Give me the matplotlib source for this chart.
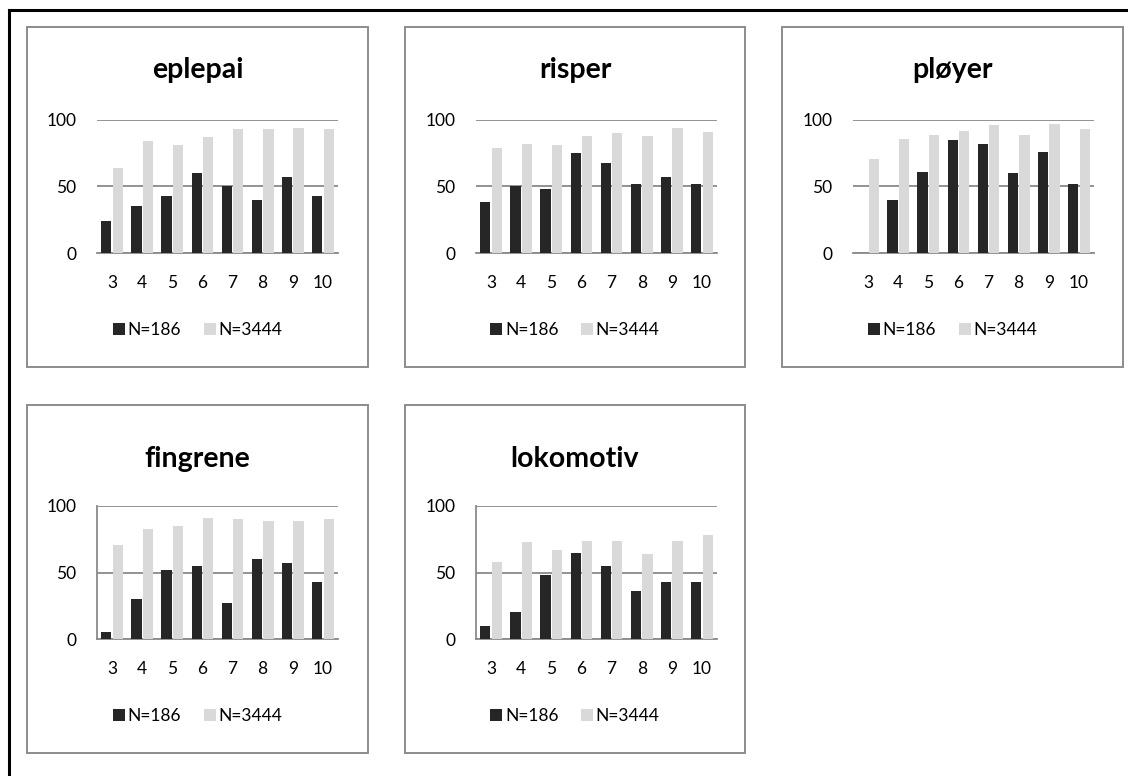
import matplotlib
matplotlib.use('Agg')
import matplotlib.pyplot as plt
from matplotlib.patches import Rectangle
from matplotlib.lines import Line2D
import numpy as np

plt.rcParams['font.family'] = ['Lato', 'DejaVu Sans']

# ages on the x axis
ages = ['3', '4', '5', '6', '7', '8', '9', '10']
series_labels = ['N=186', 'N=3444']

words = ['eplepai', 'risper', 'pløyer', 'fingrene', 'lokomotiv']
small_group = {
    'eplepai':   [24, 35, 43, 60, 50, 40, 57, 43],
    'risper':    [38, 50, 48, 75, 68, 52, 57, 52],
    'pløyer':    [0, 40, 61, 85, 82, 60, 76, 52],
    'fingrene':  [5, 30, 52, 55, 27, 60, 57, 43],
    'lokomotiv': [10, 20, 48, 65, 55, 36, 43, 43],
}
large_group = {
    'eplepai':   [64, 84, 81, 87, 93, 93, 94, 93],
    'risper':    [79, 82, 81, 88, 90, 88, 94, 91],
    'pløyer':    [71, 86, 89, 92, 96, 89, 97, 93],
    'fingrene':  [71, 83, 85, 91, 90, 89, 89, 90],
    'lokomotiv': [58, 73, 67, 74, 74, 64, 74, 78],
}

W, H = 1128, 776
DARK = '#262626'
LIGHT = '#d9d9d9'
GRID = '#8a8a8a'

fig = plt.figure(figsize=(W / 100, H / 100), dpi=100)

# black frame on top and left
fig.add_artist(Line2D([9 / W, 1], [1 - 10 / H, 1 - 10 / H], color='black', lw=2.2))
fig.add_artist(Line2D([9 / W, 9 / W], [0, 1 - 10 / H], color='black', lw=2.2))

# panel boxes in pixels: x0, x1, y0, y1, plot left edge, baseline, title y, legend y
panels = [
    (27, 368, 27, 367, 97, 253, 70, 330),
    (405, 745, 27, 367, 476, 253, 70, 330),
    (782, 1123, 27, 367, 853, 253, 70, 330),
    (27, 368, 405, 753, 97, 639, 459, 716),
    (405, 745, 405, 753, 476, 639, 459, 716),
]

x = np.arange(len(ages))
bw = 0.34
for i, word in enumerate(words):
    px0, px1, py0, py1, ax_left, ax_base, title_y, leg_y = panels[i]
    fig.add_artist(Rectangle((px0 / W, 1 - py1 / H), (px1 - px0) / W, (py1 - py0) / H,
                             transform=fig.transFigure, fill=False,
                             edgecolor='#8c8c8c', lw=1.4))

    ax = fig.add_axes([ax_left / W, 1 - ax_base / H, 241 / W, 133 / H])
    ax.bar(x - 0.19, small_group[word], bw, color=DARK, label=series_labels[0], zorder=3)
    ax.bar(x + 0.19, large_group[word], bw, color=LIGHT, label=series_labels[1], zorder=3)
    ax.set_xlim(-0.5, len(ages) - 0.5)
    ax.set_ylim(0, 100)
    ax.set_yticks([0, 50, 100])
    ax.set_xticks(x)
    ax.set_xticklabels(ages)
    ax.yaxis.grid(True, color=GRID, lw=1.3, zorder=1)
    ax.tick_params(length=0, labelsize=12.5, colors='black')
    ax.tick_params(axis='x', pad=16)
    ax.tick_params(axis='y', pad=15)
    for s in ['top', 'right']:
        ax.spines[s].set_visible(False)
    ax.spines['bottom'].set_color(GRID)
    ax.spines['bottom'].set_linewidth(1.3)
    if i >= 3:
        ax.spines['left'].set_color(GRID)
        ax.spines['left'].set_linewidth(1.3)
    else:
        ax.spines['left'].set_visible(False)

    cx = (px0 + px1) / 2
    fig.text(cx / W, 1 - title_y / H, word, ha='center', va='center',
             fontsize=20.5, fontweight='bold')

    handles, labels = ax.get_legend_handles_labels()
    fig.legend(handles, labels, loc='center', bbox_to_anchor=(cx / W, 1 - leg_y / H),
               ncol=2, frameon=False, fontsize=12.5, handlelength=0.7, handleheight=0.7,
               handletextpad=0.15, columnspacing=1.3)

fig.savefig('out.png', dpi=100)
